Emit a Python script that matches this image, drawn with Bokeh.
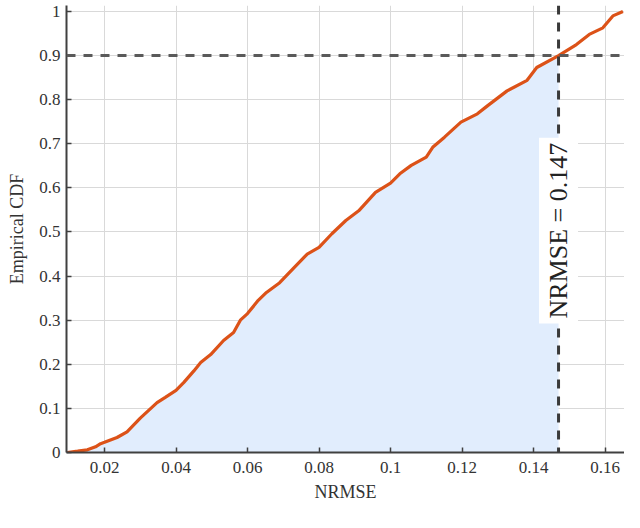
import math
from bokeh.plotting import figure
from bokeh.models import ColumnDataSource, Range1d, FixedTicker, Span, Label
from bokeh.embed import file_html
from bokeh.resources import INLINE

# ---- data ----
nrmse = [0.0096, 0.0125, 0.0152, 0.0175, 0.0189, 0.0200, 0.0235, 0.0263, 0.0300,
         0.0347, 0.0370, 0.0400, 0.0422, 0.0450, 0.0469, 0.0497, 0.0533, 0.0561,
         0.0580, 0.0600, 0.0630, 0.0653, 0.0690, 0.0731, 0.0767, 0.0800, 0.0836,
         0.0875, 0.0911, 0.0958, 0.1000, 0.1026, 0.1058, 0.1100, 0.1118, 0.1151,
         0.1197, 0.1243, 0.1271, 0.1326, 0.1382, 0.1409, 0.1470, 0.1520, 0.1556,
         0.1594, 0.1622, 0.1650]
cdf = [0.000, 0.003, 0.006, 0.013, 0.020, 0.023, 0.034, 0.047, 0.078,
       0.113, 0.125, 0.141, 0.159, 0.185, 0.204, 0.222, 0.254, 0.272,
       0.300, 0.315, 0.345, 0.363, 0.385, 0.420, 0.450, 0.465, 0.496,
       0.526, 0.548, 0.590, 0.611, 0.632, 0.651, 0.670, 0.692, 0.715,
       0.749, 0.768, 0.786, 0.820, 0.844, 0.873, 0.900, 0.925, 0.948,
       0.963, 0.990, 1.000]
threshold_x = 0.147
threshold_y = 0.9
x_ticks = [0.02, 0.04, 0.06, 0.08, 0.10, 0.12, 0.14, 0.16]
x_tick_labels = ["0.02", "0.04", "0.06", "0.08", "0.1", "0.12", "0.14", "0.16"]
y_ticks = [0.0, 0.1, 0.2, 0.3, 0.4, 0.5, 0.6, 0.7, 0.8, 0.9, 1.0]
y_tick_labels = ["0", "0.1", "0.2", "0.3", "0.4", "0.5", "0.6", "0.7", "0.8", "0.9", "1"]

FONT = "Liberation Serif"
TXT = "#333333"

src = ColumnDataSource(dict(x=nrmse, y=cdf))
fill_x = [v for v in nrmse if v <= threshold_x]
fill_y = [c for v, c in zip(nrmse, cdf) if v <= threshold_x]
fill_src = ColumnDataSource(dict(x=fill_x, y=fill_y, y0=[0.0] * len(fill_x)))

p = figure(width=624, height=512, output_backend="svg", toolbar_location=None,
           x_range=Range1d(0.00937, 0.16545), y_range=Range1d(0.0, 1.0136),
           min_border_left=66, min_border_right=0, min_border_top=5,
           min_border_bottom=60)
p.outline_line_color = None
p.background_fill_color = "white"

p.varea(x="x", y1="y0", y2="y", source=fill_src, fill_color="#E1EDFD", fill_alpha=1.0)

p.xgrid.ticker = FixedTicker(ticks=x_ticks)
p.ygrid.ticker = FixedTicker(ticks=y_ticks)
for g in (p.xgrid, p.ygrid):
    g.grid_line_color = "#d9d9d9"
    g.grid_line_width = 1

p.line(x="x", y="y", source=src, line_color="#DC5218", line_width=3.2)

p.add_layout(Span(location=threshold_y, dimension="width", line_color="#5a5a5a",
                  line_width=3, line_dash="9 8"))
p.add_layout(Span(location=threshold_x, dimension="height", line_color="#3a3a3a",
                  line_width=3, line_dash="9 8"))

p.add_layout(Label(x=threshold_x, y=0.503, text="NRMSE = %.3f" % threshold_x,
                   angle=math.pi / 2, text_align="center", text_baseline="middle",
                   text_font=FONT, text_font_size="26px", text_color="#222222",
                   background_fill_color="white", background_fill_alpha=1.0,
                   padding=5))

for ax, ticks, labels in ((p.xaxis[0], x_ticks, x_tick_labels),
                          (p.yaxis[0], y_ticks, y_tick_labels)):
    ax.ticker = FixedTicker(ticks=ticks)
    ax.major_label_overrides = {t: l for t, l in zip(ticks, labels)}
    ax.minor_tick_line_color = None
    ax.major_tick_in = 5
    ax.major_tick_out = 0
    ax.major_tick_line_color = "#404040"
    ax.major_tick_line_width = 1.5
    ax.axis_line_color = "#404040"
    ax.axis_line_width = 2
    ax.major_label_text_font = FONT
    ax.major_label_text_font_size = "17px"
    ax.major_label_text_color = TXT
    ax.axis_label_text_font = FONT
    ax.axis_label_text_font_size = "18px"
    ax.axis_label_text_font_style = "normal"
    ax.axis_label_text_color = TXT

p.xaxis.axis_label = "NRMSE"
p.yaxis.axis_label = "Empirical CDF"
p.xaxis.major_label_standoff = 9
p.yaxis.major_label_standoff = 6
p.xaxis.axis_label_standoff = 6
p.yaxis.axis_label_standoff = 9

open("out.html", "w").write(file_html(p, INLINE))
